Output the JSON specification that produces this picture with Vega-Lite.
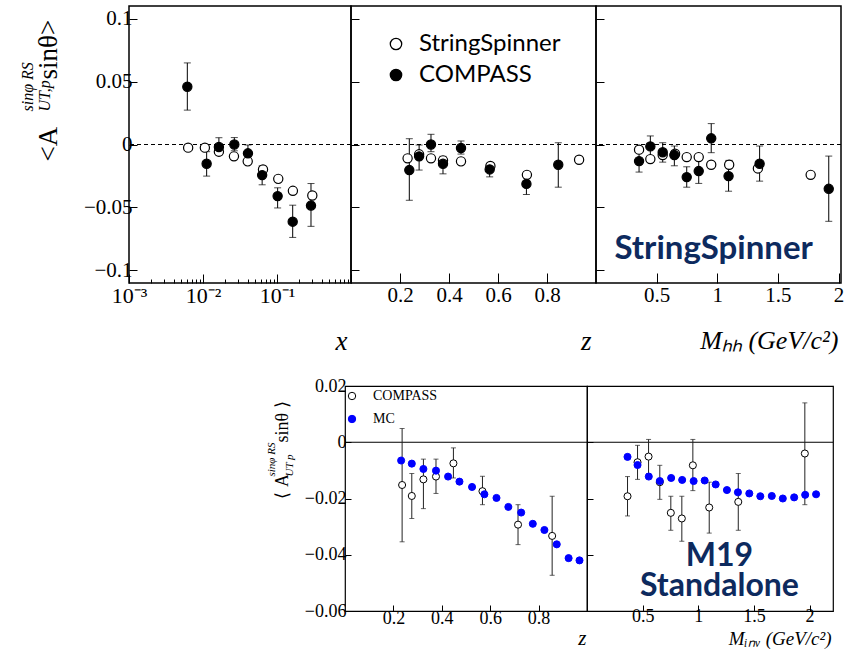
{
  "$schema": "https://vega.github.io/schema/vega-lite/v6.json",
  "padding": {"left": 18, "top": 5, "right": 5, "bottom": 0},
  "autosize": {"type": "pad"},
  "spacing": 21,
  "resolve": {"scale": {"fill": "independent", "stroke": "independent"}, "legend": {"fill": "independent", "stroke": "independent"}},
  "datasets": {
    "topx": [
      {"x": 0.0063, "y": -0.0025, "series": "StringSpinner"},
      {"x": 0.0106, "y": -0.0025, "series": "StringSpinner"},
      {"x": 0.0164, "y": -0.0057, "series": "StringSpinner"},
      {"x": 0.0262, "y": -0.0094, "series": "StringSpinner"},
      {"x": 0.0402, "y": -0.0134, "series": "StringSpinner"},
      {"x": 0.0647, "y": -0.0198, "lo": -0.0215, "hi": -0.018, "series": "StringSpinner"},
      {"x": 0.104, "y": -0.0273, "series": "StringSpinner"},
      {"x": 0.164, "y": -0.0368, "series": "StringSpinner"},
      {"x": 0.300, "y": -0.0405, "series": "StringSpinner"},
      {"x": 0.00614, "y": 0.0459, "lo": 0.0273, "hi": 0.0648, "series": "COMPASS"},
      {"x": 0.0112, "y": -0.0153, "lo": -0.0251, "hi": -0.0057, "series": "COMPASS"},
      {"x": 0.0164, "y": -0.002, "lo": -0.0084, "hi": 0.0054, "series": "COMPASS"},
      {"x": 0.0265, "y": 0.0, "lo": -0.005, "hi": 0.0055, "series": "COMPASS"},
      {"x": 0.0405, "y": -0.007, "lo": -0.0126, "hi": -0.0004, "series": "COMPASS"},
      {"x": 0.063, "y": -0.0243, "lo": -0.032, "hi": -0.017, "series": "COMPASS"},
      {"x": 0.102, "y": -0.041, "lo": -0.0504, "hi": -0.0344, "series": "COMPASS"},
      {"x": 0.163, "y": -0.0613, "lo": -0.0738, "hi": -0.0482, "series": "COMPASS"},
      {"x": 0.288, "y": -0.0485, "lo": -0.065, "hi": -0.031, "series": "COMPASS"}
    ],
    "topz": [
      {"z": 0.231, "y": -0.011, "series": "StringSpinner"},
      {"z": 0.278, "y": -0.0078, "series": "StringSpinner"},
      {"z": 0.3265, "y": -0.011, "series": "StringSpinner"},
      {"z": 0.3755, "y": -0.0126, "series": "StringSpinner"},
      {"z": 0.449, "y": -0.0134, "series": "StringSpinner"},
      {"z": 0.569, "y": -0.0171, "series": "StringSpinner"},
      {"z": 0.718, "y": -0.0241, "lo": -0.026, "hi": -0.0215, "series": "StringSpinner"},
      {"z": 0.931, "y": -0.0121, "series": "StringSpinner"},
      {"z": 0.238, "y": -0.0203, "lo": -0.0443, "hi": 0.0046, "series": "COMPASS"},
      {"z": 0.278, "y": -0.0094, "lo": -0.0203, "hi": -0.0004, "series": "COMPASS"},
      {"z": 0.3265, "y": 0.0, "lo": -0.0057, "hi": 0.0081, "series": "COMPASS"},
      {"z": 0.3755, "y": -0.0153, "lo": -0.0233, "hi": -0.0094, "series": "COMPASS"},
      {"z": 0.449, "y": -0.0028, "lo": -0.0076, "hi": 0.0028, "series": "COMPASS"},
      {"z": 0.566, "y": -0.0198, "lo": -0.0257, "hi": -0.0158, "series": "COMPASS"},
      {"z": 0.716, "y": -0.0313, "lo": -0.0397, "hi": -0.0251, "series": "COMPASS"},
      {"z": 0.846, "y": -0.0161, "lo": -0.0339, "hi": 0.0014, "series": "COMPASS"}
    ],
    "topm": [
      {"m": 0.355, "y": -0.0041, "series": "StringSpinner"},
      {"m": 0.448, "y": -0.0116, "series": "StringSpinner"},
      {"m": 0.55, "y": -0.0084, "series": "StringSpinner"},
      {"m": 0.652, "y": -0.0073, "series": "StringSpinner"},
      {"m": 0.748, "y": -0.01, "series": "StringSpinner"},
      {"m": 0.847, "y": -0.01, "series": "StringSpinner"},
      {"m": 0.95, "y": -0.0161, "series": "StringSpinner"},
      {"m": 1.098, "y": -0.0161, "lo": -0.0178, "hi": -0.0126, "series": "StringSpinner"},
      {"m": 1.335, "y": -0.019, "lo": -0.0215, "hi": -0.0165, "series": "StringSpinner"},
      {"m": 1.77, "y": -0.0241, "series": "StringSpinner"},
      {"m": 0.355, "y": -0.0132, "lo": -0.0219, "hi": -0.0044, "series": "COMPASS"},
      {"m": 0.448, "y": -0.0015, "lo": -0.0097, "hi": 0.0068, "series": "COMPASS"},
      {"m": 0.55, "y": -0.0062, "lo": -0.014, "hi": 0.0014, "series": "COMPASS"},
      {"m": 0.646, "y": -0.0084, "lo": -0.0169, "hi": -0.0012, "series": "COMPASS"},
      {"m": 0.748, "y": -0.0259, "lo": -0.0339, "hi": -0.0177, "series": "COMPASS"},
      {"m": 0.847, "y": -0.0211, "lo": -0.0309, "hi": -0.0113, "series": "COMPASS"},
      {"m": 0.95, "y": 0.0049, "lo": -0.0065, "hi": 0.0166, "series": "COMPASS"},
      {"m": 1.093, "y": -0.0251, "lo": -0.0371, "hi": -0.0132, "series": "COMPASS"},
      {"m": 1.349, "y": -0.0153, "lo": -0.0291, "hi": -0.0012, "series": "COMPASS"},
      {"m": 1.919, "y": -0.0352, "lo": -0.061, "hi": -0.0092, "series": "COMPASS"}
    ],
    "botz": [
      {"z": 0.236, "y": -0.0152, "lo": -0.0354, "hi": 0.0049, "source": "COMPASS"},
      {"z": 0.276, "y": -0.0191, "lo": -0.0271, "hi": -0.0111, "source": "COMPASS"},
      {"z": 0.324, "y": -0.0132, "lo": -0.0236, "hi": -0.006, "source": "COMPASS"},
      {"z": 0.376, "y": -0.0122, "lo": -0.0182, "hi": -0.006, "source": "COMPASS"},
      {"z": 0.448, "y": -0.0075, "lo": -0.0127, "hi": -0.002, "source": "COMPASS"},
      {"z": 0.568, "y": -0.0174, "lo": -0.0222, "hi": -0.0121, "source": "COMPASS"},
      {"z": 0.715, "y": -0.0293, "lo": -0.0364, "hi": -0.0222, "source": "COMPASS"},
      {"z": 0.856, "y": -0.0333, "lo": -0.0473, "hi": -0.0192, "source": "COMPASS"},
      {"z": 0.232, "y": -0.0065, "source": "MC"},
      {"z": 0.276, "y": -0.0076, "source": "MC"},
      {"z": 0.324, "y": -0.0095, "source": "MC"},
      {"z": 0.376, "y": -0.0101, "source": "MC"},
      {"z": 0.426, "y": -0.0122, "source": "MC"},
      {"z": 0.473, "y": -0.014, "source": "MC"},
      {"z": 0.525, "y": -0.0159, "source": "MC"},
      {"z": 0.576, "y": -0.0185, "source": "MC"},
      {"z": 0.626, "y": -0.0198, "source": "MC"},
      {"z": 0.675, "y": -0.023, "source": "MC"},
      {"z": 0.728, "y": -0.025, "source": "MC"},
      {"z": 0.776, "y": -0.029, "source": "MC"},
      {"z": 0.824, "y": -0.0312, "source": "MC"},
      {"z": 0.875, "y": -0.0363, "source": "MC"},
      {"z": 0.924, "y": -0.0412, "source": "MC"},
      {"z": 0.969, "y": -0.042, "lo": -0.0428, "hi": -0.0411, "source": "MC"}
    ],
    "botm": [
      {"m": 0.364, "y": -0.0192, "lo": -0.0262, "hi": -0.0122, "source": "COMPASS"},
      {"m": 0.454, "y": -0.0071, "lo": -0.0132, "hi": -0.0011, "source": "COMPASS"},
      {"m": 0.553, "y": -0.0051, "lo": -0.0111, "hi": 0.001, "source": "COMPASS"},
      {"m": 0.654, "y": -0.0142, "lo": -0.0203, "hi": -0.0082, "source": "COMPASS"},
      {"m": 0.753, "y": -0.0251, "lo": -0.0313, "hi": -0.0192, "source": "COMPASS"},
      {"m": 0.852, "y": -0.0271, "lo": -0.0352, "hi": -0.0192, "source": "COMPASS"},
      {"m": 0.951, "y": -0.0082, "lo": -0.0172, "hi": 0.001, "source": "COMPASS"},
      {"m": 1.098, "y": -0.0232, "lo": -0.0323, "hi": -0.0142, "source": "COMPASS"},
      {"m": 1.359, "y": -0.0212, "lo": -0.0313, "hi": -0.0111, "source": "COMPASS"},
      {"m": 1.957, "y": -0.004, "lo": -0.0222, "hi": 0.014, "source": "COMPASS"},
      {"m": 0.364, "y": -0.0052, "source": "MC"},
      {"m": 0.454, "y": -0.0081, "source": "MC"},
      {"m": 0.555, "y": -0.0122, "source": "MC"},
      {"m": 0.654, "y": -0.0138, "source": "MC"},
      {"m": 0.756, "y": -0.0127, "source": "MC"},
      {"m": 0.855, "y": -0.0134, "source": "MC"},
      {"m": 0.958, "y": -0.0138, "source": "MC"},
      {"m": 1.057, "y": -0.0136, "source": "MC"},
      {"m": 1.156, "y": -0.015, "source": "MC"},
      {"m": 1.257, "y": -0.017, "source": "MC"},
      {"m": 1.356, "y": -0.0178, "source": "MC"},
      {"m": 1.458, "y": -0.0182, "source": "MC"},
      {"m": 1.557, "y": -0.0192, "source": "MC"},
      {"m": 1.66, "y": -0.0191, "source": "MC"},
      {"m": 1.759, "y": -0.02, "source": "MC"},
      {"m": 1.861, "y": -0.0196, "source": "MC"},
      {"m": 1.96, "y": -0.0187, "source": "MC"},
      {"m": 2.058, "y": -0.0185, "source": "MC"}
    ]
  },
  "vconcat": [
    {
      "spacing": 0,
      "bounds": "flush",
      "resolve": {"scale": {"fill": "independent"}, "legend": {"fill": "independent"}},
      "hconcat": [
        {
          "width": 222, "height": 277,
          "data": {"name": "topx"},
          "resolve": {"axis": {"y": "independent"}},
          "encoding": {
            "x": {"field": "x", "type": "quantitative",
                  "scale": {"type": "log", "domain": [0.001, 1], "nice": false},
                  "axis": {"values": [0.001, 0.002, 0.003, 0.004, 0.005, 0.006, 0.007, 0.008, 0.009, 0.01, 0.02, 0.03, 0.04, 0.05, 0.06, 0.07, 0.08, 0.09, 0.1, 0.2, 0.3, 0.4, 0.5, 0.6, 0.7, 0.8, 0.9, 1],
                           "labelExpr": "datum.value == 0.001 ? '10⁻³' : (datum.value == 0.01 ? '10⁻²' : (datum.value == 0.1 ? '10⁻¹' : ''))",
                           "tickSize": {"condition": {"test": "datum.value == 0.001 || datum.value == 0.01 || datum.value == 0.1 || datum.value == 1", "value": -9}, "value": -4},
                           "labelFontSize": 22, "labelPadding": 11, "labelFlush": false, "labelOverlap": false,
                           "title": "x", "titleFontSize": 27, "titleFontStyle": "italic",
                           "titleAlign": "right", "titleBaseline": "alphabetic", "titleX": 218, "titleY": 66}}
          },
          "layer": [
            {"data": {"values": [{}]},
             "mark": {"type": "rule", "strokeDash": [4, 3], "color": "black", "strokeWidth": 1},
             "encoding": {"x": null, "y": {"datum": 0, "type": "quantitative", "axis": null}}},
            {"transform": [{"filter": "isValid(datum.lo)"}],
             "mark": {"type": "errorbar", "ticks": {"size": 7}, "color": "black", "thickness": 1},
             "encoding": {"y": {"field": "lo", "type": "quantitative", "axis": null},
                          "y2": {"field": "hi"}}},
            {"mark": {"type": "point", "shape": "circle", "filled": true, "size": 85, "stroke": "black", "strokeWidth": 1.2, "opacity": 1},
             "encoding": {
               "y": {"field": "y", "type": "quantitative",
                     "scale": {"domain": [-0.11, 0.11], "nice": false, "zero": false},
                     "axis": {"orient": "left", "values": [-0.1, -0.05, 0, 0.05, 0.1], "format": "~g", "tickSize": -8,
                              "labelFontSize": 21, "labelPadding": 5,
                              "title": "<A\u00a0\u00a0\u00a0\u00a0\u00a0\u00a0\u00a0sinθ>", "titleFontSize": 27,
                              "titleAlign": "left", "titleBaseline": "alphabetic", "titleAngle": -90,
                              "titleX": -73, "titleY": 155}},
               "fill": {"field": "series", "type": "nominal",
                        "scale": {"domain": ["StringSpinner", "COMPASS"], "range": ["white", "black"]},
                        "legend": null}}},
            {"mark": {"type": "point", "opacity": 0},
             "encoding": {
               "y": {"field": "y", "type": "quantitative",
                     "axis": {"orient": "left", "labels": false, "ticks": false, "domain": false,
                              "title": ["sinφ RS", "UT,p"], "titleFontSize": 16, "titleFontStyle": "italic",
                              "titleLineHeight": 17, "titleAlign": "left", "titleBaseline": "alphabetic",
                              "titleAngle": -90, "titleX": -97, "titleY": 105}}}}
          ]
        },
        {
          "width": 245, "height": 277,
          "data": {"name": "topz"},
          "encoding": {
            "x": {"field": "z", "type": "quantitative",
                  "scale": {"domain": [0, 1], "nice": false, "zero": false},
                  "axis": {"values": [0.2, 0.4, 0.6, 0.8], "format": "~g", "tickSize": -10,
                           "labelFontSize": 21, "labelPadding": 11,
                           "title": "z", "titleFontSize": 27, "titleFontStyle": "italic",
                           "titleAlign": "right", "titleBaseline": "alphabetic", "titleX": 240, "titleY": 66}}
          },
          "layer": [
            {"data": {"values": [{}]},
             "mark": {"type": "rule", "strokeDash": [4, 3], "color": "black", "strokeWidth": 1},
             "encoding": {"x": null, "y": {"datum": 0, "type": "quantitative"}}},
            {"transform": [{"filter": "isValid(datum.lo)"}],
             "mark": {"type": "errorbar", "ticks": {"size": 7}, "color": "black", "thickness": 1},
             "encoding": {"y": {"field": "lo", "type": "quantitative"}, "y2": {"field": "hi"}}},
            {"mark": {"type": "point", "shape": "circle", "filled": true, "size": 85, "stroke": "black", "strokeWidth": 1.2, "opacity": 1},
             "encoding": {
               "y": {"field": "y", "type": "quantitative",
                     "scale": {"domain": [-0.11, 0.11], "nice": false, "zero": false},
                     "axis": {"values": [-0.1, -0.05, 0, 0.05, 0.1], "labels": false, "tickSize": -8, "title": null}},
               "fill": {"field": "series", "type": "nominal",
                        "scale": {"domain": ["StringSpinner", "COMPASS"], "range": ["white", "black"]},
                        "legend": {"title": null, "orient": "none", "legendX": 33, "legendY": 26, "padding": 0,
                                   "symbolType": "circle", "symbolSize": 130, "symbolStrokeColor": "black",
                                   "symbolStrokeWidth": 1.3, "labelFont": "Lato", "labelFontSize": 24,
                                   "labelOffset": 11, "rowPadding": 7, "labelColor": "black"}}}}
          ]
        },
        {
          "width": 245, "height": 277,
          "data": {"name": "topm"},
          "layer": [
            {"data": {"values": [{}]},
             "mark": {"type": "rule", "strokeDash": [4, 3], "color": "black", "strokeWidth": 1},
             "encoding": {"y": {"datum": 0, "type": "quantitative"}}},
            {"transform": [{"filter": "isValid(datum.lo)"}],
             "mark": {"type": "errorbar", "ticks": {"size": 7}, "color": "black", "thickness": 1},
             "encoding": {
               "x": {"field": "m", "type": "quantitative",
                     "scale": {"domain": [0, 2.02], "nice": false, "zero": false},
                     "axis": {"values": [0.5, 1, 1.5, 2], "format": "~g", "tickSize": -10,
                              "labelFontSize": 21, "labelPadding": 11, "labelFlush": false,
                              "title": "Mₕₕ (GeV/c²)", "titleFontSize": 26, "titleFontStyle": "italic",
                              "titleAlign": "right", "titleBaseline": "alphabetic", "titleX": 242, "titleY": 65}},
               "y": {"field": "lo", "type": "quantitative"}, "y2": {"field": "hi"}}},
            {"mark": {"type": "point", "shape": "circle", "filled": true, "size": 85, "stroke": "black", "strokeWidth": 1.2, "opacity": 1},
             "encoding": {
               "x": {"field": "m", "type": "quantitative",
                     "scale": {"domain": [0, 2.02], "nice": false, "zero": false},
                     "axis": {"values": [0.5, 1, 1.5, 2], "format": "~g", "tickSize": -10,
                              "labelFontSize": 21, "labelPadding": 11, "labelFlush": false,
                              "title": "Mₕₕ (GeV/c²)", "titleFontSize": 26, "titleFontStyle": "italic",
                              "titleAlign": "right", "titleBaseline": "alphabetic", "titleX": 242, "titleY": 65}},
               "y": {"field": "y", "type": "quantitative",
                     "scale": {"domain": [-0.11, 0.11], "nice": false, "zero": false},
                     "axis": {"values": [-0.1, -0.05, 0, 0.05, 0.1], "labels": false, "tickSize": -8, "title": null}},
               "fill": {"field": "series", "type": "nominal",
                        "scale": {"domain": ["StringSpinner", "COMPASS"], "range": ["white", "black"]},
                        "legend": null}}},
            {"data": {"values": [{}]},
             "mark": {"type": "text", "text": "StringSpinner", "font": "Lato", "fontWeight": "bold", "fontSize": 33,
                      "color": "#0d2a5e", "align": "center", "baseline": "middle"},
             "encoding": {"x": {"datum": 0.97, "type": "quantitative"},
                          "y": {"datum": -0.0833, "type": "quantitative"}}}
          ]
        }
      ]
    },
    {
      "spacing": 0,
      "bounds": "flush",
      "resolve": {"scale": {"fill": "independent", "stroke": "independent"}, "legend": {"fill": "independent", "stroke": "independent"}},
      "hconcat": [
        {"width": 216, "height": 225, "data": {"values": []}, "mark": "point", "view": {"stroke": null}},
        {
          "width": 242, "height": 225,
          "data": {"name": "botz"},
          "view": {"stroke": "black", "strokeWidth": 1.2},
          "resolve": {"axis": {"y": "independent"}},
          "encoding": {
            "x": {"field": "z", "type": "quantitative",
                  "scale": {"domain": [0, 1], "nice": false, "zero": false},
                  "axis": {"values": [0.2, 0.4, 0.6, 0.8], "format": "~g", "tickSize": -6,
                           "labelFontSize": 18, "labelPadding": 4,
                           "title": "z", "titleFontSize": 21, "titleFontStyle": "italic",
                           "titleAlign": "right", "titleBaseline": "alphabetic", "titleX": 241, "titleY": 33}}
          },
          "layer": [
            {"data": {"values": [{}]},
             "mark": {"type": "rule", "color": "black", "strokeWidth": 1},
             "encoding": {"x": null, "y": {"datum": 0, "type": "quantitative", "axis": null}}},
            {"transform": [{"filter": "isValid(datum.lo)"}],
             "mark": {"type": "errorbar", "ticks": {"size": 5}, "color": "#222222", "thickness": 1},
             "encoding": {"y": {"field": "lo", "type": "quantitative", "axis": null},
                          "y2": {"field": "hi"}}},
            {"mark": {"type": "point", "shape": "circle", "filled": true, "size": 50, "strokeWidth": 1, "opacity": 1},
             "encoding": {
               "y": {"field": "y", "type": "quantitative",
                     "scale": {"domain": [-0.06, 0.02], "nice": false, "zero": false},
                     "axis": {"orient": "left", "values": [-0.06, -0.04, -0.02, 0, 0.02], "format": "~g", "tickSize": -6,
                              "labelFontSize": 18, "labelPadding": 5,
                              "title": "⟨\u00a0A\u00a0\u00a0\u00a0\u00a0\u00a0\u00a0\u00a0sinθ\u00a0⟩", "titleFontSize": 18,
                              "titleAlign": "left", "titleBaseline": "alphabetic", "titleAngle": -90,
                              "titleX": -58, "titleY": 112}},
               "fill": {"field": "source", "type": "nominal",
                        "scale": {"domain": ["COMPASS", "MC"], "range": ["white", "#0000ff"]},
                        "legend": {"title": null, "orient": "none", "legendX": 0, "legendY": 3, "padding": 0,
                                   "symbolType": "circle", "symbolSize": 55, "symbolStrokeColor": "black",
                                   "symbolStrokeWidth": 1, "labelFont": "Liberation Serif", "labelFontSize": 14,
                                   "labelOffset": 14, "rowPadding": 9, "labelColor": "black"}},
               "stroke": {"field": "source", "type": "nominal",
                          "scale": {"domain": ["COMPASS", "MC"], "range": ["black", "#0000ff"]},
                          "legend": null}}},
            {"mark": {"type": "point", "opacity": 0},
             "encoding": {
               "y": {"field": "y", "type": "quantitative",
                     "axis": {"orient": "left", "labels": false, "ticks": false, "domain": false,
                              "title": ["sinφ RS", "UT p"], "titleFontSize": 11, "titleFontStyle": "italic",
                              "titleLineHeight": 18, "titleAlign": "left", "titleBaseline": "alphabetic",
                              "titleAngle": -90, "titleX": -71, "titleY": 90}}}}
          ]
        },
        {
          "width": 246, "height": 225,
          "data": {"name": "botm"},
          "view": {"stroke": "black", "strokeWidth": 1.2},
          "layer": [
            {"data": {"values": [{}]},
             "mark": {"type": "rule", "color": "black", "strokeWidth": 1},
             "encoding": {"y": {"datum": 0, "type": "quantitative"}}},
            {"transform": [{"filter": "isValid(datum.lo)"}],
             "mark": {"type": "errorbar", "ticks": {"size": 5}, "color": "#222222", "thickness": 1},
             "encoding": {
               "x": {"field": "m", "type": "quantitative",
                     "scale": {"domain": [0, 2.21], "nice": false, "zero": false},
                     "axis": {"values": [0.5, 1, 1.5, 2], "format": "~g", "tickSize": -6,
                              "labelFontSize": 18, "labelPadding": 2,
                              "title": "Mᵢₙᵥ (GeV/c²)", "titleFontSize": 19, "titleFontStyle": "italic",
                              "titleAlign": "right", "titleBaseline": "alphabetic", "titleX": 244, "titleY": 33}},
               "y": {"field": "lo", "type": "quantitative"}, "y2": {"field": "hi"}}},
            {"mark": {"type": "point", "shape": "circle", "filled": true, "size": 50, "strokeWidth": 1, "opacity": 1},
             "encoding": {
               "x": {"field": "m", "type": "quantitative",
                     "scale": {"domain": [0, 2.21], "nice": false, "zero": false},
                     "axis": {"values": [0.5, 1, 1.5, 2], "format": "~g", "tickSize": -6,
                              "labelFontSize": 18, "labelPadding": 2,
                              "title": "Mᵢₙᵥ (GeV/c²)", "titleFontSize": 19, "titleFontStyle": "italic",
                              "titleAlign": "right", "titleBaseline": "alphabetic", "titleX": 244, "titleY": 33}},
               "y": {"field": "y", "type": "quantitative",
                     "scale": {"domain": [-0.06, 0.02], "nice": false, "zero": false},
                     "axis": {"values": [-0.06, -0.04, -0.02, 0, 0.02], "labels": false, "tickSize": -6, "title": null}},
               "fill": {"field": "source", "type": "nominal",
                        "scale": {"domain": ["COMPASS", "MC"], "range": ["white", "#0000ff"]},
                        "legend": null},
               "stroke": {"field": "source", "type": "nominal",
                          "scale": {"domain": ["COMPASS", "MC"], "range": ["black", "#0000ff"]},
                          "legend": null}}},
            {"data": {"values": [{}]},
             "mark": {"type": "text", "text": ["M19", "Standalone"], "font": "Lato", "fontWeight": "bold", "fontSize": 32,
                      "lineHeight": 30, "color": "#0d2a5e", "align": "center", "baseline": "middle"},
             "encoding": {"x": {"datum": 1.19, "type": "quantitative"},
                          "y": {"datum": -0.0406, "type": "quantitative"}}}
          ]
        }
      ]
    }
  ],
  "config": {
    "view": {"stroke": "black", "strokeWidth": 1.5},
    "axis": {"grid": false, "domain": false, "tickColor": "black", "tickWidth": 1,
             "labelColor": "black", "titleColor": "black",
             "labelFont": "Liberation Serif", "titleFont": "Liberation Serif", "titleFontWeight": "normal"},
    "font": "Liberation Serif"
  }
}
